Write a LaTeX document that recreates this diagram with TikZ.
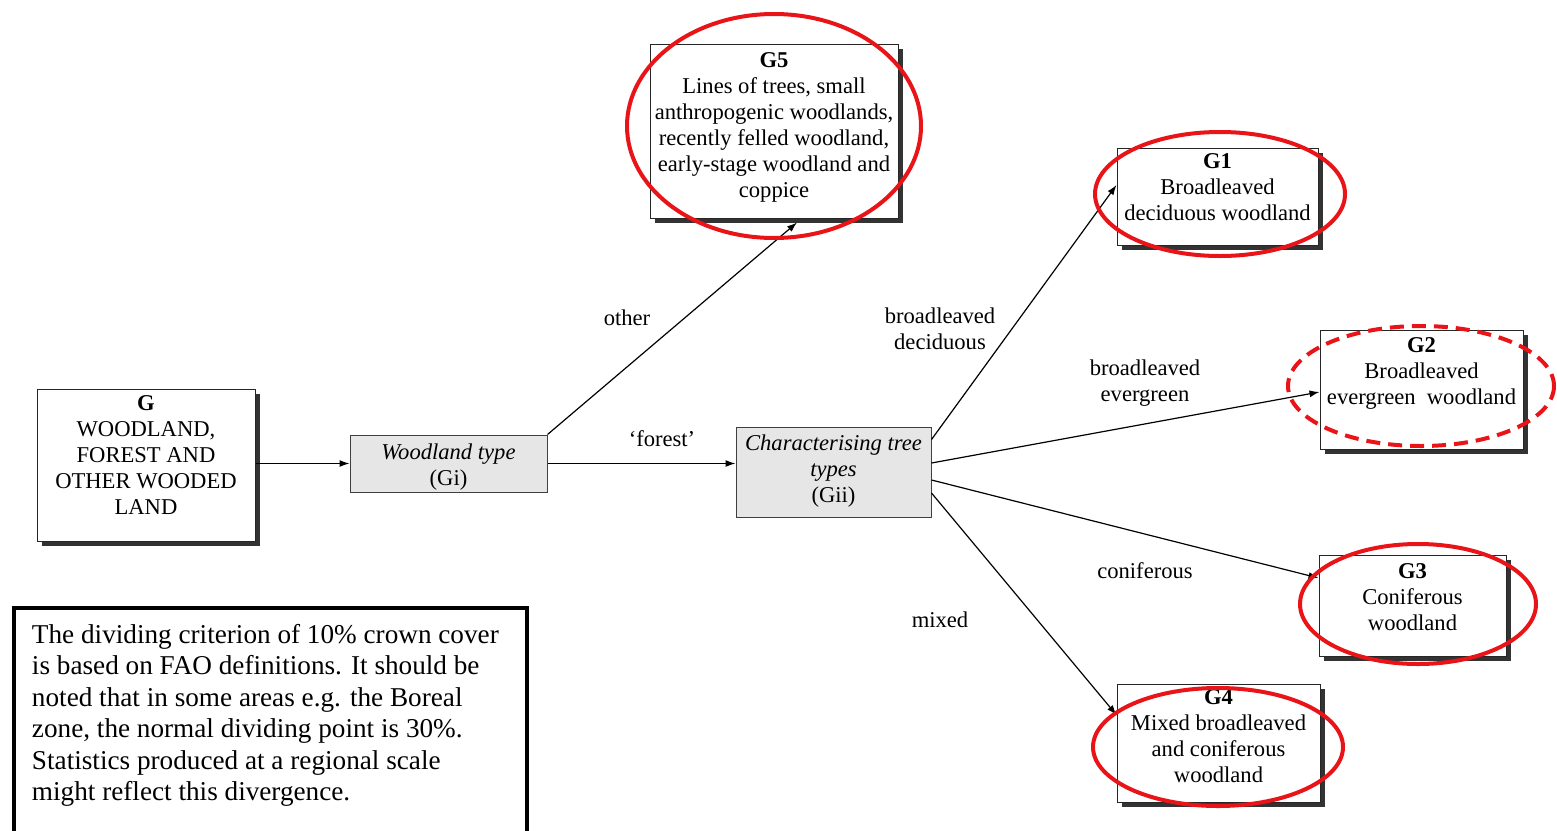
\documentclass[tikz,border=0pt]{standalone}
\usepackage{fontspec}
\setmainfont{Liberation Serif}
\usetikzlibrary{shadows,arrows.meta}
\definecolor{ovalred}{RGB}{232,20,24}
\definecolor{boxgray}{RGB}{230,230,230}
% box content: width, height, top padding, centred lines
\newcommand{\bxt}[4]{\begin{minipage}[c][#2][t]{#1}\centering\vspace*{#3}#4\end{minipage}}

\begin{document}
\begin{tikzpicture}[x=0.5pt,y=-0.5pt,
  boxfont/.style={font=\fontsize{11.3}{13}\selectfont},
  lbl/.style={boxfont, align=center, inner sep=0pt},
  card/.style={boxfont, draw=black!85, line width=0.5pt, fill=white, inner sep=0pt,
    drop shadow={shadow xshift=2.5pt, shadow yshift=-2.5pt, fill=black!80, opacity=1}},
  graybox/.style={boxfont, draw=black!75, line width=0.5pt, fill=boxgray, inner sep=0pt},
  notebox/.style={draw=black, line width=2pt, fill=white, inner xsep=9pt, inner ysep=0pt,
    font=\fontsize{13.6}{15.75}\selectfont},
  link/.style={line width=0.6pt, -{Latex[length=5pt,width=3.5pt]}},
  oval/.style={draw=ovalred, line width=2pt},
  dashoval/.style={oval, dash pattern=on 7pt off 4pt},
]
\useasboundingbox (0,0) rectangle (1557,830);
\clip (0,0) rectangle (1557,830);

% main classification boxes
\node[card] (g) at (146,465) {\bxt{109pt}{76pt}{3.3pt}{\textbf{G}\\WOODLAND,\\FOREST AND\\OTHER WOODED\\LAND}};
\node[graybox] (gi) at (448.5,463.5) {\bxt{98.5pt}{28.5pt}{4.3pt}{\textit{Woodland type}\\(Gi)}};
\node[graybox] (gii) at (833.5,472) {\bxt{97.5pt}{45pt}{3.8pt}{\textit{Characterising tree}\\\textit{types}\\(Gii)}};
\node[card] (g5) at (774,131) {\bxt{124pt}{87pt}{4.3pt}{\textbf{G5}\\Lines of trees, small\\anthropogenic woodlands,\\recently felled woodland,\\early-stage woodland and\\coppice}};
\node[card] (g1) at (1217.5,196.5) {\bxt{100.5pt}{48.5pt}{2.8pt}{\textbf{G1}\\Broadleaved\\deciduous woodland}};
\node[card] (g2) at (1421.5,389.5) {\bxt{101.5pt}{59.5pt}{3.8pt}{\textbf{G2}\\Broadleaved\\evergreen\ \ woodland}};
\node[card] (g3) at (1412.5,605.5) {\bxt{93.5pt}{50.5pt}{4.3pt}{\textbf{G3}\\Coniferous\\woodland}};
\node[card] (g4) at (1218.5,743) {\bxt{101.5pt}{59pt}{2.8pt}{\textbf{G4}\\Mixed broadleaved\\and coniferous\\woodland}};

% explanatory note
\node[notebox, anchor=north west] (note) at (12,606) {\begin{minipage}[c][122pt][t]{238.5pt}\raggedright\vspace*{8pt}%
The dividing criterion of 10\% crown cover\\
is based on FAO definitions. It should be\\
noted that in some areas e.g. the Boreal\\
zone, the normal dividing point is 30\%.\\
Statistics produced at a regional scale\\
might reflect this divergence.\end{minipage}};

% connectors
\draw[link] (gi.west -| g.east) -- (gi.west);
\draw[link] (gi.east) -- (gi.east -| gii.west);
\draw[link] (gi.north east) -- ([xshift=11.5pt,yshift=-2pt]g5.south);
\draw[link] ([yshift=-6.5pt]gii.north east) -- ([yshift=5.75pt]g1.west);
\draw[link] ([yshift=4.5pt]gii.east) -- ([yshift=-1.25pt]g2.west);
\draw[link] ([yshift=-4pt]gii.east) -- ([yshift=13.75pt]g3.west);
\draw[link] ([yshift=-10.5pt]gii.east) -- ([yshift=14pt]g4.west);

% connector labels
\node[lbl] (lother) at (627,318) {other};
\node[lbl] (lforest) at (662,439) {‘forest’};
\node[lbl] (lbd) at (940,329) {broadleaved\\deciduous};
\node[lbl] (lbe) at (1145,383) {broadleaved\\evergreen};
\node[lbl] (lcon) at (1145,571) {coniferous};
\node[lbl] (lmix) at (940,620) {mixed};

% highlight rings
\draw[oval] (774,126) ellipse [x radius=147, y radius=112];
\draw[oval] (1220,194) ellipse [x radius=125, y radius=62];
\draw[dashoval] (1421,386) ellipse [x radius=133, y radius=60];
\draw[oval] (1418,604) ellipse [x radius=118, y radius=60];
\draw[oval] (1218,747) ellipse [x radius=125, y radius=59];
\end{tikzpicture}
\end{document}
